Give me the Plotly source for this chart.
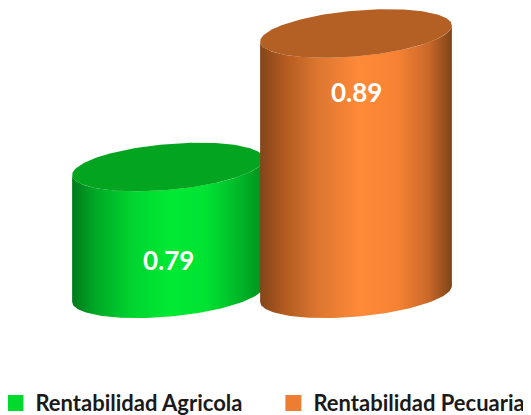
import numpy as np
import plotly.graph_objects as go

# ---- data ----
categories = ["Rentabilidad Agricola", "Rentabilidad Pecuaria"]
values = [0.79, 0.89]
value_labels = ["0.79", "0.89"]
label_offsets = [0.070, 0.044]   # label placed this far below the bar top

# ---- styles ----
axis_base = 0.695
half_width = 0.51          # in category units
ry = 0.0172                # ellipse vertical semi-axis (y units)
shear = 0.0060             # tilt of ellipses (y units)
body_scales = [
    [[0.0, "#007a1a"], [0.12, "#00a826"], [0.30, "#00d22e"], [0.52, "#00ea34"],
     [0.70, "#00e232"], [0.88, "#00b527"], [1.0, "#00901f"]],
    [[0.0, "#83451a"], [0.12, "#b0591f"], [0.30, "#dc7630"], [0.52, "#ff8a38"],
     [0.72, "#f58233"], [0.88, "#c9682a"], [1.0, "#7e4418"]],
]
top_colors = ["#03a520", "#b45f24"]
legend_colors = ["#00d92e", "#ed7d31"]
legend_names = ["legend", "legend2"]
legend_x = [-0.0237, 0.4998]

fig = go.Figure()

t = np.linspace(0, np.pi, 90)
tt = np.linspace(0, 2 * np.pi, 180)
for i, (cat, v) in enumerate(zip(categories, values)):
    cx = i
    bx = cx + half_width * np.cos(t)
    by = axis_base + shear * np.cos(t) - ry * np.sin(t)
    tx = cx + half_width * np.cos(t)
    ty = v + shear * np.cos(t) - ry * np.sin(t)
    xs = np.concatenate([bx[::-1], tx])
    ys = np.concatenate([by[::-1], ty])
    fig.add_trace(go.Scatter(
        x=xs, y=ys, mode="lines", fill="toself", line=dict(width=0),
        fillgradient=dict(type="horizontal", colorscale=body_scales[i]),
        hoverinfo="skip", showlegend=False))
    ex = cx + half_width * np.cos(tt)
    ey = v + shear * np.cos(tt) - ry * np.sin(tt)
    fig.add_trace(go.Scatter(
        x=ex, y=ey, mode="lines", fill="toself", line=dict(width=0),
        fillcolor=top_colors[i], hoverinfo="skip", showlegend=False))
    fig.add_annotation(x=cx, y=v - label_offsets[i], text=value_labels[i],
                       showarrow=False,
                       font=dict(family="Lato", size=26, color="white", weight="bold"))

# legend entries
for i, cat in enumerate(categories):
    fig.add_trace(go.Scatter(
        x=[None], y=[None], mode="markers", name=cat, legend=legend_names[i],
        marker=dict(symbol="square", size=16, color=legend_colors[i]),
        showlegend=True))

legend_style = dict(orientation="h", y=0.048, xanchor="left", yanchor="middle",
                    font=dict(family="Lato", size=22, color="#1a1a1a", weight="bold"),
                    itemwidth=30, bgcolor="rgba(0,0,0,0)")

fig.update_layout(
    width=531, height=415,
    margin=dict(l=0, r=0, t=0, b=0, autoexpand=False),
    paper_bgcolor="white", plot_bgcolor="white",
    xaxis=dict(range=[-0.8511, 1.9734], visible=False, fixedrange=True),
    yaxis=dict(range=[0.5982, 0.9091], visible=False, fixedrange=True),
    showlegend=True,
    legend=dict(x=legend_x[0], **legend_style),
    legend2=dict(x=legend_x[1], **legend_style),
)

fig.write_html("out.html")
